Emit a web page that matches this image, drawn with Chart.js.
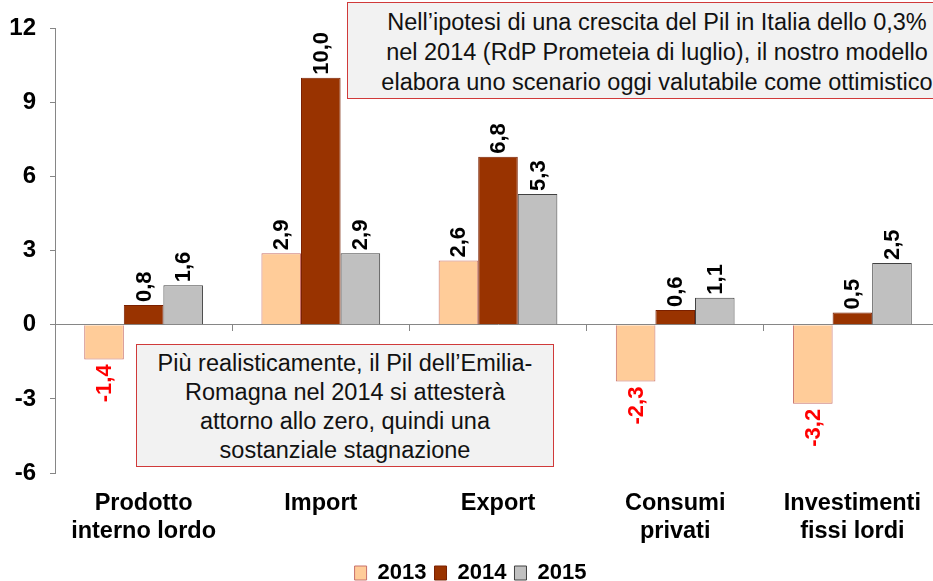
<!DOCTYPE html>
<html>
<head>
<meta charset="utf-8">
<script src="https://cdn.jsdelivr.net/npm/chart.js@4"></script>
<style>
  body { margin: 0; overflow: hidden; background: #fff; }
  #wrap { position: relative; width: 945px; height: 581px; }
  .note {
    position: absolute;
    background: #F2F2F2;
    border: 1.5px solid #D03A3A;
    font-family: "Liberation Sans", Arial, sans-serif;
    color: #111;
    text-align: center;
    box-sizing: border-box;
  }
  #noteTop { left: 347px; top: 2px; width: 620px; height: 97px; font-size: 23.5px; line-height: 30px; padding-top: 4px; }
  #noteLow { left: 136px; top: 344px; width: 418px; height: 123px; font-size: 23.5px; line-height: 29px; padding-top: 4px; }
</style>
</head>
<body>
<div id="wrap">
  <canvas id="myChart" width="945" height="581"></canvas>
  <div class="note" id="noteTop">Nell’ipotesi di una crescita del Pil in Italia dello 0,3%<br>nel 2014 (RdP Prometeia di luglio), il nostro modello<br>elabora uno scenario oggi valutabile come ottimistico</div>
  <div class="note" id="noteLow">Più realisticamente, il Pil dell’Emilia-<br>Romagna nel 2014 si attesterà<br>attorno allo zero, quindi una<br>sostanziale stagnazione</div>
</div>
<script>
// categories and series
var categories = [
  ['Prodotto', 'interno lordo'],
  'Import',
  'Export',
  ['Consumi', 'privati'],
  ['Investimenti', 'fissi lordi']
];
var data2013 = [-1.4, 2.9, 2.6, -2.3, -3.2];
var data2014 = [0.8, 10.0, 6.8, 0.6, 0.5];
var data2015 = [1.6, 2.9, 5.3, 1.1, 2.5];
var yTicks = [-6, -3, 0, 3, 6, 9, 12];

var FONT = "'Liberation Sans', Arial, sans-serif";

//////////////////////////
// value labels on bars
//////////////////////////
var valueLabels = {
  id: 'valueLabels',
  afterDatasetsDraw: function (chart) {
    var ctx = chart.ctx;
    ctx.save();
    ctx.font = 'bold 22px ' + FONT;
    ctx.textBaseline = 'middle';
    chart.data.datasets.forEach(function (ds, i) {
      var meta = chart.getDatasetMeta(i);
      meta.data.forEach(function (bar, j) {
        var v = ds.data[j];
        var txt = v.toFixed(1).replace('.', ',');
        ctx.save();
        if (v >= 0) {
          ctx.translate(bar.x, bar.y - 3);
          ctx.rotate(-Math.PI / 2);
          ctx.textAlign = 'left';
          ctx.fillStyle = '#000';
        } else {
          ctx.translate(bar.x, bar.y + 5);
          ctx.rotate(-Math.PI / 2);
          ctx.textAlign = 'right';
          ctx.fillStyle = '#FF0000';
        }
        ctx.fillText(txt, 0, 1);
        ctx.restore();
      });
    });
    ctx.restore();
  }
};

var ctx = document.getElementById('myChart').getContext('2d');

var myChart = new Chart(ctx, {
  type: 'bar',
  data: {
    labels: categories,
    datasets: [
      { label: '2013', data: data2013, backgroundColor: '#FFCC99', borderColor: '#C8706A', borderWidth: 1 },
      { label: '2014', data: data2014, backgroundColor: '#993300', borderColor: '#7A2000', borderWidth: 1 },
      { label: '2015', data: data2015, backgroundColor: '#C0C0C0', borderColor: '#404040', borderWidth: 1 }
    ]
  },
  options: {
    responsive: false,
    animation: false,
    layout: { padding: { top: 28, right: 4, left: 0, bottom: -13 } },
    datasets: { bar: { categoryPercentage: 0.67, barPercentage: 1.0 } },
    plugins: {
      tooltip: { enabled: false },
      legend: {
        position: 'bottom',
        labels: {
          boxWidth: 12,
          boxHeight: 14,
          padding: 8,
          color: '#000',
          font: { family: FONT, size: 22, weight: 'bold' }
        }
      }
    },
    scales: {
      x: {
        position: 'bottom',
        grid: { display: false, drawTicks: false },
        border: { display: false },
        ticks: {
          padding: 16,
          color: '#000',
          maxRotation: 0,
          autoSkip: false,
          font: { family: FONT, size: 23.5, weight: 'bold', lineHeight: 1.2 }
        },
        afterFit: function (scale) {
          scale.height = 581 + 13 - 473 - scale.chart.legend.height;
        }
      },
      x0: {
        type: 'category',
        position: { y: 0 },
        grid: { offset: true, drawOnChartArea: false, tickLength: 6, color: '#868686' },
        border: { color: '#868686', width: 1 },
        ticks: { display: false }
      },
      y: {
        min: -6,
        max: 12,
        afterBuildTicks: function (scale) {
          scale.ticks = yTicks.map(function (v) { return { value: v }; });
        },
        grid: { drawOnChartArea: false, tickLength: 5, color: '#868686' },
        border: { color: '#868686', width: 1 },
        ticks: {
          padding: 14,
          color: '#000',
          font: { family: FONT, size: 24, weight: 'bold' }
        },
        afterFit: function (scale) {
          scale.width = 55;
        }
      }
    }
  },
  plugins: [valueLabels]
});
</script>
</body>
</html>
